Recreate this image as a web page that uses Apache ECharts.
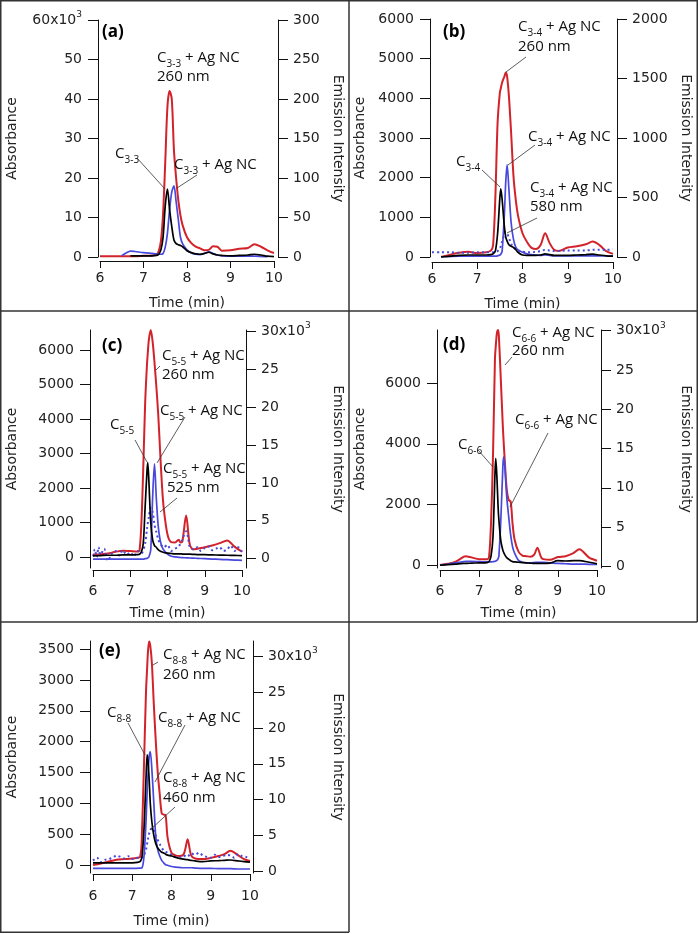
<!DOCTYPE html>
<html>
<head>
<meta charset="utf-8">
<script src="https://cdn.jsdelivr.net/npm/echarts@6/dist/echarts.min.js"></script>
<style>
  html, body { margin: 0; padding: 0; background: #fff; }
  #chart { width: 698px; height: 934px; }
</style>
</head>
<body>
<div id="chart"></div>
<script>
// --- time axes (min) for each panel ---
const timeA = [6.0, 6.2, 6.4, 6.5, 6.6, 6.7, 6.8, 7.0, 7.2, 7.3, 7.35, 7.4, 7.45, 7.5, 7.55, 7.6, 7.65, 7.7, 7.75, 7.8, 7.85, 7.9, 8.0, 8.1, 8.2, 8.3, 8.4, 8.5, 8.6, 8.7, 8.8, 9.0, 9.2, 9.4, 9.55, 9.7, 9.85, 10.0];
const timeB = [6.0, 6.2, 6.4, 6.6, 6.8, 7.0, 7.2, 7.3, 7.35, 7.4, 7.45, 7.5, 7.52, 7.55, 7.6, 7.63, 7.66, 7.7, 7.75, 7.8, 7.85, 7.9, 8.0, 8.1, 8.2, 8.3, 8.4, 8.5, 8.6, 8.7, 8.8, 9.0, 9.2, 9.4, 9.55, 9.7, 9.85, 10.0];
const timeC = [6.0, 6.2, 6.4, 6.6, 6.8, 7.0, 7.2, 7.25, 7.3, 7.35, 7.4, 7.45, 7.47, 7.5, 7.55, 7.6, 7.65, 7.7, 7.75, 7.8, 7.85, 7.9, 8.0, 8.1, 8.2, 8.3, 8.35, 8.4, 8.5, 8.6, 8.7, 8.8, 9.0, 9.2, 9.4, 9.6, 9.8, 10.0];
const timeCdot = [6.0, 6.05, 6.1, 6.15, 6.2, 6.3, 6.4, 6.5, 6.6, 6.7, 6.8, 6.9, 7.0, 7.1, 7.2, 7.3, 7.4, 7.45, 7.5, 7.55, 7.6, 7.65, 7.7, 7.75, 7.8, 7.9, 8.0, 8.1, 8.2, 8.3, 8.4, 8.45, 8.5, 8.55, 8.6, 8.7, 8.8, 8.9, 9.0, 9.1, 9.2, 9.3, 9.4, 9.5, 9.6, 9.7, 9.8, 9.9, 10.0];
const timeD = [6.0, 6.2, 6.4, 6.6, 6.65, 6.8, 7.0, 7.2, 7.25, 7.3, 7.35, 7.4, 7.42, 7.45, 7.48, 7.5, 7.55, 7.6, 7.62, 7.65, 7.7, 7.75, 7.8, 7.85, 7.9, 8.0, 8.1, 8.2, 8.3, 8.4, 8.48, 8.6, 8.8, 9.0, 9.2, 9.4, 9.55, 9.8, 10.0];
const timeE = [6.0, 6.2, 6.4, 6.6, 6.8, 7.0, 7.2, 7.25, 7.3, 7.35, 7.38, 7.4, 7.43, 7.46, 7.5, 7.55, 7.6, 7.65, 7.7, 7.75, 7.8, 7.85, 7.9, 8.0, 8.1, 8.2, 8.3, 8.35, 8.41, 8.5, 8.6, 8.8, 9.0, 9.2, 9.35, 9.5, 9.7, 9.85, 10.0];
const timeEdot = [6.0, 6.1, 6.2, 6.3, 6.4, 6.5, 6.6, 6.7, 6.8, 6.9, 7.0, 7.1, 7.2, 7.3, 7.35, 7.4, 7.45, 7.5, 7.55, 7.6, 7.7, 7.8, 7.9, 8.0, 8.1, 8.2, 8.3, 8.4, 8.5, 8.6, 8.7, 8.8, 8.9, 9.0, 9.1, 9.2, 9.3, 9.4, 9.5, 9.6, 9.7, 9.8, 9.9, 10.0];

// (a) C3-3 -- absorbance units (left axis)
const redA = [200, 200, 200, 200, 200, 200, 200, 300, 400, 600, 1500, 4000, 11000, 24000, 38000, 42000, 40000, 27000, 20000, 14400, 10500, 8000, 5000, 3500, 2600, 2200, 1700, 1800, 2700, 2600, 1600, 1700, 2100, 2300, 3200, 2600, 1700, 1000];
const blackA = [null, null, null, null, null, 300, 300, 300, 300, 400, 700, 1800, 5000, 13000, 17200, 12000, 7700, 4300, 3400, 3100, 2900, 2600, 1600, 1100, 800, 700, 900, 1200, 800, 500, 400, 300, 400, 500, 700, 500, 200, 100];
const blueA = [null, null, null, 300, 1000, 1500, 1400, 1100, 900, 800, 700, 700, 900, 2500, 6000, 12000, 16500, 18000, 14000, 9500, 5000, 3300, 1800, 1000, 700, 600, 900, 1300, 900, 500, 300, 200, 200, 200, 200, 100, 0, null];

// (b) C3-4
const redB = [null, 0, 60, 110, 130, 100, 120, 160, 300, 1500, 3400, 4150, 4250, 4400, 4550, 4650, 4550, 4050, 3100, 2050, 1450, 1050, 600, 380, 230, 200, 300, 600, 350, 180, 150, 240, 270, 320, 390, 300, 150, 80];
const blackB = [null, 0, 20, 40, 50, 50, 50, 60, 80, 150, 600, 1500, 1720, 1450, 760, 500, 400, 310, 270, 240, 190, 120, 50, 40, 40, 40, 50, 80, 60, 40, 40, 40, 50, 60, 70, 50, 30, 20];
const blueB = [null, 0, 10, 20, 20, 20, 20, 20, 20, 20, 30, 50, 70, 150, 1100, 1900, 2320, 1700, 850, 450, 250, 180, 120, 80, 60, 50, 40, 50, 40, 30, 30, 30, 30, 30, 30, 30, 25, 20];
// emission at 580 nm (right axis)
const emisB = [40, 40, 40, 35, 35, 40, 40, 40, 40, 45, 50, 70, 90, 130, 190, 210, 200, 160, 110, 80, 65, 55, 45, 40, 40, 45, 50, 60, 55, 50, 50, 55, 55, 55, 60, 60, 60, 65];

// (c) C5-5
const redC = [70, 80, 100, 150, 180, 170, 160, 200, 1000, 2600, 4460, 5600, 5900, 6300, 6580, 6250, 5650, 4950, 4150, 3100, 2100, 1400, 650, 430, 420, 500, 420, 450, 1200, 350, 220, 240, 280, 330, 400, 480, 300, 150];
const blackC = [30, 40, 50, 50, 60, 60, 70, 80, 150, 400, 1460, 2500, 2737, 2200, 1000, 500, 330, 280, 210, 170, 150, 130, 110, 100, 90, 90, 90, 85, 80, 80, 75, 70, 65, 60, 55, 50, 45, 40];
const blueC = [-60, -60, -60, -60, -60, -60, -60, -60, -60, -60, -50, -40, -30, 0, 200, 1700, 2700, 1700, 900, 500, 300, 200, 80, 20, 0, -10, -15, -20, -25, -30, -35, -40, -50, -60, -70, -80, -90, -100];
// emission at 525 nm (right axis)
const emisC = [300, 1200, 200, 1500, 500, 1300, -300, 600, 1000, 400, 1100, 500, 800, 300, 1000, 700, 2000, 4000, 5500, 6700, 6200, 4500, 3500, 2600, 2000, 1500, 1800, 1000, 1300, 1600, 2500, 3200, 3600, 2800, 1500, 1200, 1500, 1000, 1400, 1600, 1100, 1300, 1500, 1000, 1200, 1700, 1000, 1500, 900];

// (d) C6-6
const redD = [10, 50, 120, 280, 300, 260, 200, 200, 280, 1400, 3600, 6800, 7200, 7650, 7750, 7550, 6100, 4600, 4100, 3450, 2500, 2150, 2100, 1350, 850, 450, 320, 300, 280, 350, 580, 220, 180, 270, 300, 400, 530, 250, 150];
const blackD = [0, 20, 40, 60, 60, 70, 80, 90, 120, 300, 940, 3000, 3520, 2900, 1930, 1500, 800, 500, 430, 350, 250, 200, 150, 120, 110, 100, 90, 80, 70, 60, 60, 60, 70, 150, 140, 150, 150, 100, 50];
const blueD = [0, 40, 80, 120, 130, 130, 120, 110, 110, 110, 120, 130, 140, 160, 220, 300, 1500, 3200, 3570, 3300, 2260, 1600, 1000, 600, 400, 160, 100, 80, 80, 90, 100, 100, 80, 60, 50, 40, 40, 30, 30];

// (e) C8-8
const redE = [5, 30, 60, 90, 100, 110, 140, 600, 1650, 2800, 3200, 3450, 3620, 3550, 3270, 2600, 2000, 1500, 1150, 840, 820, 810, 450, 200, 160, 150, 170, 260, 420, 160, 110, 100, 120, 150, 180, 236, 160, 100, 70];
const blackE = [40, 40, 40, 40, 40, 40, 60, 150, 600, 1400, 1785, 1700, 1400, 1000, 700, 480, 350, 280, 240, 210, 200, 180, 165, 150, 130, 110, 100, 95, 90, 80, 70, 60, 70, 75, 80, 85, 70, 60, 50];
const blueE = [-50, -50, -50, -50, -50, -50, -45, -40, 150, 700, 1200, 1450, 1750, 1840, 1550, 1000, 460, 250, 150, 80, 40, 10, 0, -20, -30, -35, -40, -40, -40, -40, -45, -50, -50, -55, -55, -55, -60, -60, -60];
// emission at 460 nm (right axis)
const emisE = [1500, 1900, 1300, 1600, 1700, 1900, 2200, 2000, 1800, 2100, 1700, 1900, 1800, 2300, 3000, 4500, 5600, 6000, 5800, 5000, 3800, 2900, 2600, 2300, 2000, 1900, 2200, 2000, 2500, 2300, 2600, 2200, 2000, 1900, 2300, 2000, 2100, 2300, 2200, 1900, 2400, 2100, 2000, 1800];

// tick values
const timeTicks = [6, 7, 8, 9, 10];
const absTicksA = [0, 10000, 20000, 30000, 40000, 50000, 60000];
const emTicksA = [0, 50, 100, 150, 200, 250, 300];
const absTicksB = [0, 1000, 2000, 3000, 4000, 5000, 6000];
const emTicksB = [0, 500, 1000, 1500, 2000];
const absTicksC = [0, 1000, 2000, 3000, 4000, 5000, 6000];
const absTicksD = [0, 2000, 4000, 6000];
const absTicksE = [0, 500, 1000, 1500, 2000, 2500, 3000, 3500];
const emTicksCDE = [0, 5000, 10000, 15000, 20000, 25000, 30000];

const RED = '#d3232a', BLUE = '#4848dc', BLACK = '#000000';
const AXF = 'DejaVu Sans';
const ANF = 'Open Sans';

// panel geometry (pixels) and axis ranges
const panels = [
    { left: 100, top: 20, width: 174, height: 237, lMin: 0, lMax: 60000, rMin: 0, rMax: 300,
      lTicks: absTicksA, rTicks: emTicksA, lK: true, rK: false, lOff: 2, rOff: 4, xOff: 4, lGap: 79, rGap: 53, xGap: 35, xMargin: 10 },
    { left: 432, top: 19, width: 181, height: 238, lMin: 0, lMax: 6000, rMin: 0, rMax: 2000,
      lTicks: absTicksB, rTicks: emTicksB, lK: false, rK: false, lOff: 2, rOff: 4, xOff: 5, lGap: 63, rGap: 62, xGap: 35, xMargin: 10 },
    { left: 93, top: 330, width: 149, height: 238, lMin: -320, lMax: 6580, rMin: -1250, rMax: 30200,
      lTicks: absTicksC, rTicks: emTicksCDE, lK: false, rK: true, lOff: 3, rOff: 4, xOff: 2, lGap: 71, rGap: 85, xGap: 36, xMargin: 14 },
    { left: 440, top: 330, width: 157, height: 238, lMin: -90, lMax: 7750, rMin: -220, rMax: 30090,
      lTicks: absTicksD, rTicks: emTicksCDE, lK: false, rK: true, lOff: 3, rOff: 4, xOff: 2, lGap: 70, rGap: 78, xGap: 36, xMargin: 14 },
    { left: 93, top: 641, width: 157, height: 232, lMin: -125, lMax: 3629, rMin: -240, rMax: 32140,
      lTicks: absTicksE, rTicks: emTicksCDE, lK: false, rK: true, lOff: 3, rOff: 3, xOff: 1, lGap: 71, rGap: 78, xGap: 40, xMargin: 15 }
];

const axisRich = {
    m: { fontFamily: AXF, fontSize: 14, color: '#222', lineHeight: 20 },
    p: { fontFamily: AXF, fontSize: 9, color: '#222', verticalAlign: 'top' }
};

function labelFmt(ticks, k) {
    const top = ticks[ticks.length - 1];
    return function (v) {
        if (!k) return String(v);
        if (v === top) return '{m|' + (v / 1000) + 'x10}{p|3}';
        return String(v / 1000);
    };
}

function yAxisFor(i, g, side) {
    const left = side === 'left';
    const ticks = left ? g.lTicks : g.rTicks;
    return {
        type: 'value', gridIndex: i, position: side,
        offset: left ? g.lOff : g.rOff,
        min: left ? g.lMin : g.rMin, max: left ? g.lMax : g.rMax,
        name: left ? 'Absorbance' : 'Emission Intensity',
        nameLocation: 'middle', nameRotate: left ? 90 : -90,
        nameGap: left ? g.lGap : g.rGap,
        nameTextStyle: { fontFamily: AXF, fontSize: 14, color: '#222' },
        axisLine: { show: true, onZero: false, lineStyle: { color: '#111', width: 1 } },
        axisTick: { show: true, length: 10, customValues: ticks, lineStyle: { color: '#111', width: 1 } },
        axisLabel: { customValues: ticks, margin: left ? 16 : 15, fontFamily: AXF, fontSize: 14, color: '#222',
                     formatter: labelFmt(ticks, left ? g.lK : g.rK), rich: axisRich },
        splitLine: { show: false }
    };
}

const grids = [], xAxes = [], yAxes = [];
panels.forEach((g, i) => {
    grids.push({ left: g.left, top: g.top, width: g.width, height: g.height });
    xAxes.push({
        type: 'value', gridIndex: i, min: 6, max: 10, position: 'bottom', offset: g.xOff,
        name: 'Time (min)', nameLocation: 'middle', nameGap: g.xGap,
        nameTextStyle: { fontFamily: AXF, fontSize: 14, color: '#222' },
        axisLine: { show: true, onZero: false, lineStyle: { color: '#111', width: 1 } },
        axisTick: { show: true, length: 7, customValues: timeTicks, lineStyle: { color: '#111', width: 1 } },
        axisLabel: { customValues: timeTicks, margin: g.xMargin, fontFamily: AXF, fontSize: 14, color: '#222' },
        splitLine: { show: false }
    });
    yAxes.push(yAxisFor(i, g, 'left'));
    yAxes.push(yAxisFor(i, g, 'right'));
});

function pairs(T, V) { return T.map((t, i) => [t, V[i]]); }

function line(panel, right, T, V, color, width, dotted) {
    return {
        type: 'line', xAxisIndex: panel, yAxisIndex: panel * 2 + (right ? 1 : 0),
        data: pairs(T, V), showSymbol: false, smooth: 0.3, silent: true, clip: true,
        lineStyle: { color: color, width: width, type: dotted ? [2, 3] : 'solid' },
        itemStyle: { color: color }
    };
}

const series = [
    line(0, false, timeA, redA, RED, 2),
    line(0, false, timeA, blueA, BLUE, 1.7),
    line(0, false, timeA, blackA, BLACK, 1.7),

    line(1, false, timeB, redB, RED, 2),
    line(1, true, timeB, emisB, BLUE, 2, true),
    line(1, false, timeB, blueB, BLUE, 1.7),
    line(1, false, timeB, blackB, BLACK, 1.7),

    line(2, false, timeC, redC, RED, 2),
    line(2, true, timeCdot, emisC, BLUE, 2, true),
    line(2, false, timeC, blueC, BLUE, 1.7),
    line(2, false, timeC, blackC, BLACK, 1.7),

    line(3, false, timeD, redD, RED, 2),
    line(3, false, timeD, blueD, BLUE, 1.7),
    line(3, false, timeD, blackD, BLACK, 1.7),

    line(4, false, timeE, redE, RED, 2),
    line(4, true, timeEdot, emisE, BLUE, 2, true),
    line(4, false, timeE, blueE, BLUE, 1.7),
    line(4, false, timeE, blackE, BLACK, 1.7)
];

// annotations -------------------------------------------------------
const annRich = {
    n: { fontFamily: ANF, fontSize: 15, color: '#111', lineHeight: 22, verticalAlign: 'middle' },
    s: { fontFamily: ANF, fontSize: 10, color: '#111', verticalAlign: 'bottom' }
};

function txt(x, y, text, rich) {
    return { type: 'text', x: x, y: y, silent: true, z: 50,
             style: { text: text, rich: rich, fill: '#111', fontFamily: ANF, fontSize: 15,
                      align: 'left', verticalAlign: 'middle', textAlign: 'left', textVerticalAlign: 'middle' } };
}
function chem(x, y, sub, tail) {
    return txt(x, y, '{n|C}{s|' + sub + '}' + (tail ? '{n|' + tail + '}' : ''), annRich);
}
function plain(x, y, s) { return txt(x, y, '{n|' + s + '}', annRich); }
function tag(x, y, s) {
    return { type: 'text', x: x, y: y, silent: true, z: 50,
             style: { text: s, fill: '#000', fontFamily: ANF, fontSize: 17, fontWeight: 'bold',
                      align: 'left', verticalAlign: 'middle', textAlign: 'left', textVerticalAlign: 'middle' } };
}
function lead(x1, y1, x2, y2) {
    return { type: 'line', silent: true, z: 50, shape: { x1: x1, y1: y1, x2: x2, y2: y2 },
             style: { stroke: '#333', lineWidth: 0.8 } };
}
function rule(x1, y1, x2, y2) {
    return { type: 'line', silent: true, z: 40, shape: { x1: x1, y1: y1, x2: x2, y2: y2 },
             style: { stroke: '#333', lineWidth: 1.5 } };
}

const AG = ' + Ag NC';
const graphics = [
    // panel frames
    rule(0.75, 0.75, 697.25, 0.75), rule(0, 311, 697.25, 311), rule(0, 622, 697.25, 622),
    rule(0.75, 0, 0.75, 932.25), rule(349, 0, 349, 932.25), rule(697.25, 0, 697.25, 622),
    rule(0, 932.25, 349, 932.25),

    // (a)
    tag(102, 32, '(a)'),
    chem(157, 58, '3-3', AG), plain(157, 77, '260 nm'),
    chem(115, 154, '3-3'), lead(137, 158, 165, 189),
    chem(174, 165, '3-3', AG), lead(197, 175, 177, 188),

    // (b)
    tag(443, 32, '(b)'),
    chem(518, 27, '3-4', AG), plain(518, 47, '260 nm'), lead(526, 57, 506, 72),
    chem(528, 137, '3-4', AG), lead(535, 145, 508, 165),
    chem(456, 162, '3-4'), lead(482, 170, 500, 187),
    chem(530, 188, '3-4', AG), plain(530, 207, '580 nm'), lead(537, 218, 507, 233),

    // (c)
    tag(102, 346, '(c)'),
    chem(162, 356, '5-5', AG), plain(162, 375, '260 nm'), lead(160, 366, 156, 370),
    chem(160, 411, '5-5', AG), lead(185, 417, 157, 463),
    chem(110, 425, '5-5'), lead(135, 440, 147, 462),
    chem(163, 469, '5-5', AG), plain(167, 488, '525 nm'), lead(177, 498, 160, 512),

    // (d)
    tag(443, 345, '(d)'),
    chem(512, 333, '6-6', AG), plain(512, 351, '260 nm'), lead(512, 357, 505, 365),
    chem(515, 420, '6-6', AG), lead(548, 433, 510, 507),
    chem(458, 445, '6-6'), lead(478, 450, 493, 467),

    // (e)
    tag(99, 651, '(e)'),
    chem(163, 655, '8-8', AG), plain(163, 675, '260 nm'), lead(158, 662, 153, 665),
    chem(107, 713, '8-8'), lead(128, 723, 145, 755),
    chem(158, 718, '8-8', AG), lead(185, 725, 155, 782),
    chem(163, 778, '8-8', AG), plain(163, 798, '460 nm'), lead(175, 807, 150, 830)
];

const chart = echarts.init(document.getElementById('chart'), null, { renderer: 'canvas' });
chart.setOption({
    backgroundColor: '#ffffff',
    animation: false,
    grid: grids,
    xAxis: xAxes,
    yAxis: yAxes,
    series: series,
    graphic: { elements: graphics }
});
</script>
</body>
</html>
